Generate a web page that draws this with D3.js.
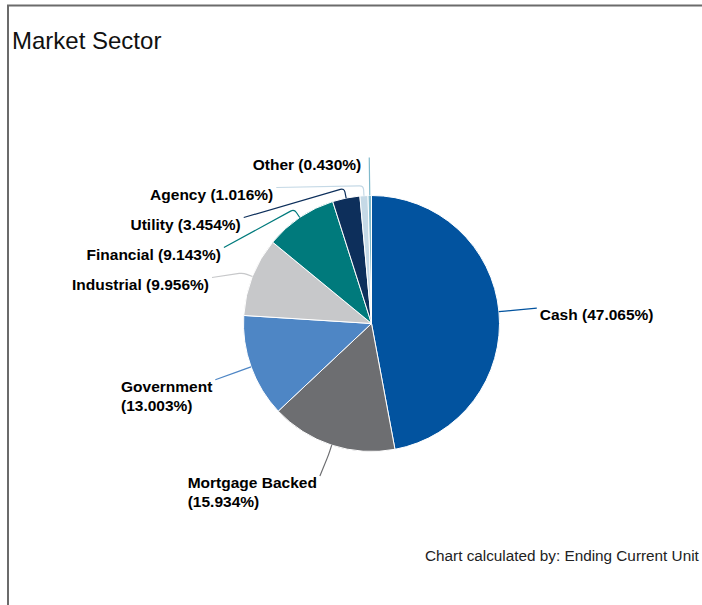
<!DOCTYPE html>
<html>
<head>
<meta charset="utf-8">
<script src="https://cdn.jsdelivr.net/npm/d3@7"></script>
<style>
  body { margin: 0; overflow: hidden; background: #fff; }
  text { font-family: "Liberation Sans", Arial, sans-serif; }
</style>
</head>
<body>
<svg id="chart" width="702" height="605"></svg>
<script>
// values
const sectors = ["Cash", "Mortgage Backed", "Government", "Industrial", "Financial", "Utility", "Agency", "Other"];
const shares = [47.065, 15.934, 13.003, 9.956, 9.143, 3.454, 1.016, 0.430];
const sectorColors = ["#02539f", "#6d6e71", "#4e86c5", "#c7c8ca", "#007a7c", "#0d2f5b", "#c5d9e6", "#80b9cb"];
const chartTitle = "Market Sector";
const footnote = "Chart calculated by: Ending Current Unit";

let svg = d3.select("#chart");

let cx = 371.5, cy = 323.5;
let radius = 128;
let labelRadius = radius + 38;
let lineGap = 19;
let rowGap = 30;
let maxLabelWidth = 145;
let plotBottom = 512 - cy;

// frame
svg.append("path")
    .attr("d", "M8,605 L8,5.5 L702,5.5")
    .attr("fill", "none")
    .attr("stroke", "#6b6b6b")
    .attr("stroke-width", 2);

svg.append("text")
    .attr("x", 12)
    .attr("y", 49)
    .attr("font-size", 24)
    .attr("fill", "#111")
    .text(chartTitle);

svg.append("text")
    .attr("x", 425)
    .attr("y", 561)
    .attr("font-size", 15.3)
    .attr("fill", "#222")
    .text(footnote);

let pie = d3.pie().sort(null).value(d => d);
let arcs = pie(shares);

let arc = d3.arc().innerRadius(0).outerRadius(radius);

let g = svg.append("g").attr("transform", "translate(" + cx + "," + cy + ")");

g.selectAll("path.slice")
    .data(arcs)
    .enter()
    .append("path")
    .attr("class", "slice")
    .attr("d", arc)
    .attr("fill", (d, i) => sectorColors[i])
    .attr("stroke", "#fff")
    .attr("stroke-width", 1);

function polar(a, r) {
    return [r * Math.sin(a), -r * Math.cos(a)];
}

// labels: build text, wrap, then place
let labels = arcs.map((d, i) => {
    let mid = (d.startAngle + d.endAngle) / 2;
    return {
        i: i,
        mid: mid,
        side: Math.sin(mid) >= 0 ? 1 : -1,
        text: sectors[i] + " (" + shares[i].toFixed(3) + "%)",
        naturalY: -labelRadius * Math.cos(mid)
    };
});

let labelLayer = g.append("g");

labels.forEach(l => {
    let t = labelLayer.append("text")
        .attr("font-size", 15.5)
        .attr("font-weight", "bold")
        .attr("fill", "#000");
    let words = l.text.split(" ");
    let lines = [];
    let current = [];
    let probe = t.append("tspan");
    words.forEach(w => {
        let attempt = current.concat([w]).join(" ");
        probe.text(attempt);
        if (probe.node().getComputedTextLength() > maxLabelWidth && current.length) {
            lines.push(current.join(" "));
            current = [w];
        } else {
            current.push(w);
        }
    });
    lines.push(current.join(" "));
    probe.remove();

    l.node = t;
    l.lines = lines;
    l.tspans = lines.map(s => t.append("tspan").text(s));
    l.width = d3.max(l.tspans, s => s.node().getComputedTextLength());
});

// push overlapping labels down on each side, keep them above the plot bottom
[-1, 1].forEach(side => {
    let group = labels.filter(l => l.side === side).sort((a, b) => a.naturalY - b.naturalY);
    let prev = null;
    group.forEach(l => {
        l.y = l.naturalY;
        if (prev) {
            let minY = prev.y + rowGap + lineGap * (prev.lines.length - 1);
            if (l.y < minY) l.y = minY;
        }
        l.x = side * Math.sqrt(Math.max(0, labelRadius * labelRadius - l.y * l.y));
        let maxY = plotBottom - 17 - lineGap * (l.lines.length - 1);
        if (l.y > maxY) l.y = maxY;
        prev = l;
    });
});

labels.forEach(l => {
    let pad = Math.abs(l.x) < 20 ? 8 : 3;
    let left = l.side > 0 ? l.x + pad : l.x - pad - l.width;
    l.tspans.forEach((s, k) => {
        s.attr("x", left).attr("y", l.y + 12 + k * lineGap);
    });

    let p0 = polar(l.mid, radius);
    let p1 = polar(l.mid, radius + 10);
    let p2 = [l.x, l.y];
    let dx = p2[0] - p1[0], dy = p2[1] - p1[1];
    let len = Math.sqrt(dx * dx + dy * dy) || 1;
    let bend = Math.min(4, len / 2);
    let pa = [p0[0] + 0.6 * (p1[0] - p0[0]), p0[1] + 0.6 * (p1[1] - p0[1])];
    let pb = [p1[0] + bend * dx / len, p1[1] + bend * dy / len];

    labelLayer.insert("path", "text")
        .attr("d", "M" + p0 + "L" + pa + "Q" + p1 + " " + pb + "L" + p2)
        .attr("fill", "none")
        .attr("stroke", sectorColors[l.i])
        .attr("stroke-width", 1.2);
});
</script>
</body>
</html>
